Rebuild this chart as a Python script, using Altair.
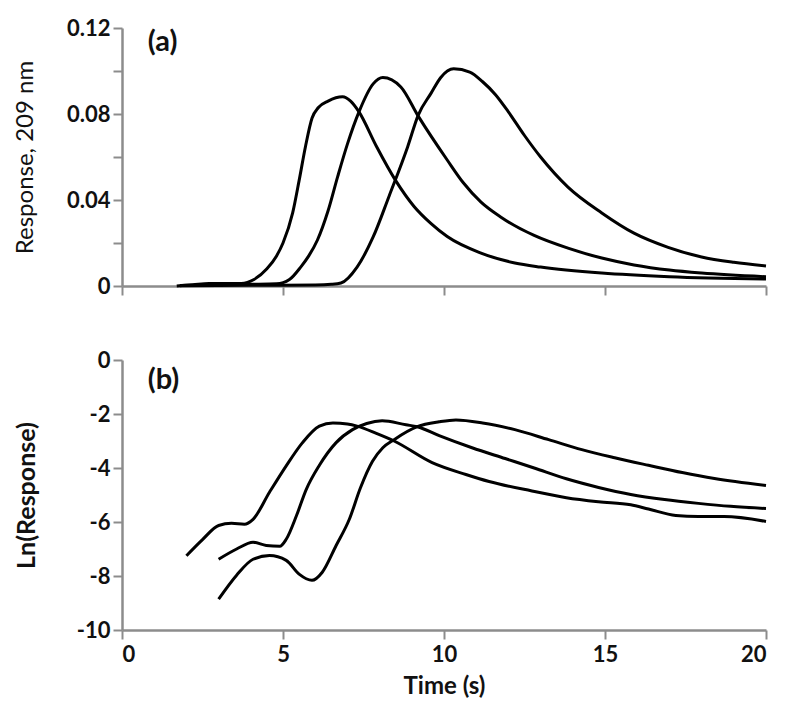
import altair as alt
import pandas as pd

# ---------- panel (a): response at 209 nm ----------
TOP_A_T = [1.7, 2.2, 2.7, 3.2, 3.7, 4.1, 4.5, 4.8, 5.0, 5.3, 5.5, 5.7, 5.9, 6.1, 6.4, 6.85, 7.1, 7.36,
           7.9, 8.5, 9.07, 9.6, 10.1, 11.15, 12.2, 13.0, 14.9, 17.0, 20.0]
TOP_A_V = [0.0, 0.0006, 0.0012, 0.0012, 0.0012, 0.003, 0.008, 0.014, 0.020, 0.034, 0.049, 0.065, 0.078,
           0.083, 0.086, 0.088, 0.086, 0.081, 0.065, 0.049, 0.037, 0.029, 0.023, 0.0153, 0.0107, 0.0088,
           0.006, 0.0043, 0.0032]

TOP_B_T = [1.8, 3.0, 4.0, 4.8, 5.2, 5.55, 5.8, 6.07, 6.4, 6.7, 7.0, 7.36, 7.8, 8.1, 8.66, 9.2, 10.1,
           10.6, 11.15, 11.77, 12.8, 13.85, 14.9, 15.9, 17.0, 18.0, 20.0]
TOP_B_V = [0.0002, 0.0006, 0.0008, 0.001, 0.003, 0.0088, 0.014, 0.0214, 0.035, 0.051, 0.066, 0.081, 0.094,
           0.097, 0.0926, 0.079, 0.0586, 0.048, 0.039, 0.032, 0.0235, 0.0176, 0.013, 0.0098,
           0.0074, 0.006, 0.0043]

TOP_C_T = [1.8, 3.0, 5.0, 6.0, 6.5, 6.8, 7.3, 7.8, 8.3, 8.87, 9.2, 9.6, 9.9, 10.3, 10.8, 11.2, 11.6,
           12.0, 12.5, 13.0, 13.85, 14.9, 15.9, 16.96, 18.0, 19.0, 20.0]
TOP_C_V = [0.0001, 0.0002, 0.0004, 0.0005, 0.0008, 0.0014, 0.0088, 0.0228, 0.042, 0.0647, 0.0795,
           0.0897, 0.097, 0.101, 0.0995, 0.095, 0.089, 0.081, 0.070, 0.060, 0.046, 0.034, 0.0246,
           0.018, 0.0135, 0.011, 0.0093]

# ---------- panel (b): ln(response) ----------
BOT_A_T = [2.0, 2.5, 3.0, 3.4, 3.8, 4.07, 4.58, 5.1, 5.6, 6.13, 6.55, 7.0, 7.3, 7.9, 8.45, 9.63, 10.68,
           11.4, 12.73, 13.8, 14.8, 15.8, 16.35, 17.2, 17.9, 18.7, 20.0]
BOT_A_V = [-7.25, -6.65, -6.13, -6.05, -6.08, -5.9, -4.9, -3.92, -3.07, -2.45, -2.33, -2.37, -2.45, -2.72,
           -3.0, -3.8, -4.24, -4.5, -4.85, -5.1, -5.25, -5.36, -5.52, -5.76, -5.8, -5.8, -5.98]

BOT_B_T = [3.0, 3.56, 4.07, 4.48, 4.9, 5.1, 5.42, 5.72, 6.13, 6.65, 7.16, 7.6, 8.08, 8.82, 9.17, 9.85,
           10.87, 11.9, 12.8, 13.8, 14.8, 15.8, 16.85, 17.9, 18.9, 20.0]
BOT_B_V = [-7.38, -7.0, -6.75, -6.87, -6.9, -6.64, -5.76, -4.8, -3.9, -3.06, -2.58, -2.35, -2.25, -2.4,
           -2.47, -2.8, -3.25, -3.65, -4.0, -4.4, -4.72, -4.98, -5.17, -5.31, -5.42, -5.5]

BOT_C_T = [3.0, 3.56, 4.07, 4.58, 5.1, 5.5, 5.9, 6.22, 6.65, 7.06, 7.4, 7.78, 8.1, 8.45, 9.17, 9.85,
           10.37, 11.2, 12.2, 13.25, 14.28, 15.3, 16.35, 17.4, 18.4, 20.0]
BOT_C_V = [-8.86, -7.97, -7.38, -7.24, -7.42, -7.93, -8.16, -7.86, -6.87, -5.9, -4.75, -3.75, -3.25,
           -2.95, -2.47, -2.29, -2.22, -2.33, -2.58, -2.95, -3.32, -3.62, -3.9, -4.17, -4.39, -4.65]

X_TICKS = [0, 5, 10, 15, 20]
TOP_Y_TICKS = [0, 0.02, 0.04, 0.06, 0.08, 0.10, 0.12]
BOT_Y_TICKS = [-10, -8, -6, -4, -2, 0]


def frame(parts):
    rows = []
    for name, ts, vs in parts:
        for t, v in zip(ts, vs):
            rows.append({"series": name, "t": t, "v": v})
    return pd.DataFrame(rows)


top_df = frame([("1", TOP_A_T, TOP_A_V), ("2", TOP_B_T, TOP_B_V), ("3", TOP_C_T, TOP_C_V)])
bot_df = frame([("1", BOT_A_T, BOT_A_V), ("2", BOT_B_T, BOT_B_V), ("3", BOT_C_T, BOT_C_V)])

FONT = "Lato"
W = 644

x_top = alt.X("t:Q", scale=alt.Scale(domain=[0, 20], nice=False),
              axis=alt.Axis(values=X_TICKS, labels=False, title=None))
x_bot = alt.X("t:Q", scale=alt.Scale(domain=[0, 20], nice=False),
              axis=alt.Axis(values=X_TICKS, labelExpr="'' + datum.value", title="Time (s)",
                            titleFontSize=24, titleFontWeight="bold", titlePadding=9, labelPadding=5))

top_lines = alt.Chart(top_df).mark_line(color="black", strokeWidth=3, interpolate="monotone").encode(
    x=x_top,
    y=alt.Y("v:Q", scale=alt.Scale(domain=[0, 0.12], nice=False),
            axis=alt.Axis(values=TOP_Y_TICKS,
                          labelExpr="round(datum.value*100) % 4 == 0 ? (datum.value == 0 ? '0' : format(datum.value, '.2f')) : ''",
                          title="Response, 209 nm", titleFontWeight="normal", titleFontSize=24,
                          titleX=-97, titleBaseline="middle")),
    detail="series:N",
)
top_label = alt.Chart(pd.DataFrame({"t": [0.8], "v": [0.1135], "txt": ["(a)"]})).mark_text(
    font=FONT, fontSize=29, fontWeight="bold", align="left", baseline="middle", color="#111"
).encode(x="t:Q", y="v:Q", text="txt:N")

top = alt.layer(top_lines, top_label).properties(width=W, height=258)

bot_lines = alt.Chart(bot_df).mark_line(color="black", strokeWidth=3, interpolate="monotone").encode(
    x=x_bot,
    y=alt.Y("v:Q", scale=alt.Scale(domain=[-10, 0], nice=False),
            axis=alt.Axis(values=BOT_Y_TICKS, labelExpr="'' + datum.value", title="Ln(Response)",
                          titleFontWeight="bold", titleFontSize=25, titleX=-96, titleBaseline="middle")),
    detail="series:N",
)
bot_label = alt.Chart(pd.DataFrame({"t": [0.8], "v": [-0.75], "txt": ["(b)"]})).mark_text(
    font=FONT, fontSize=29, fontWeight="bold", align="left", baseline="middle", color="#111"
).encode(x="t:Q", y="v:Q", text="txt:N")

bot = alt.layer(bot_lines, bot_label).properties(width=W, height=270)

chart = alt.vconcat(top, bot, spacing=52).properties(
    padding={"left": 4, "top": 9, "right": 20, "bottom": 5},
    background="white",
).configure_view(stroke=None).configure_axis(
    grid=False,
    domainColor="#8c8c8c", domainWidth=2.5,
    tickColor="#8c8c8c", tickWidth=2, tickSize=9,
    labelFont=FONT, labelFontSize=22, labelFontWeight="bold", labelColor="#111", labelPadding=3,
    titleFont=FONT, titleColor="#111",
)

chart.save("out.html", embed_options={"renderer": "svg", "actions": False})
